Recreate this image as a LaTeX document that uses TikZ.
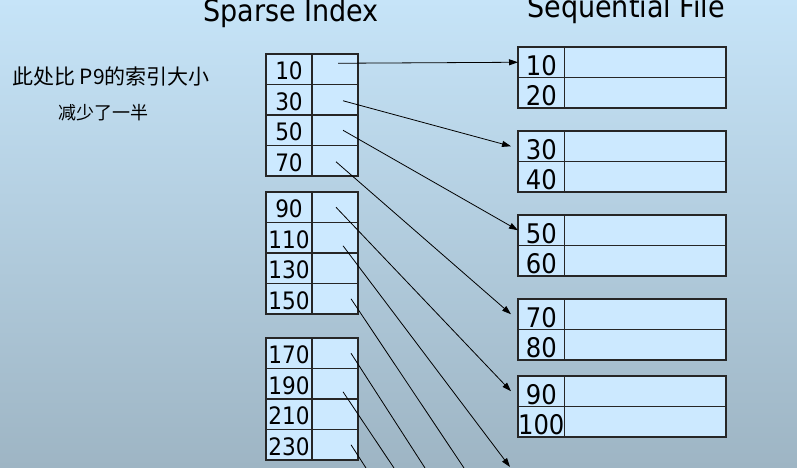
\documentclass[tikz,border=0pt]{standalone}
\usepackage{fontspec}
\setmainfont{DejaVu Sans Condensed}
\newfontfamily\cjk{Noto Sans CJK SC}
\usetikzlibrary{positioning,arrows.meta}
\definecolor{bgtop}{HTML}{C6E4F8}
\definecolor{bgbot}{HTML}{9EB5C4}
\definecolor{cellfill}{HTML}{CCE9FF}

\begin{document}
\begin{tikzpicture}[x=1pt, y=-1pt,
  idxkey/.style={draw=black!85, fill=cellfill, line width=1.1pt, minimum width=46pt, minimum height=30.5pt, inner sep=0pt, outer sep=0pt, text height=20.5pt, text depth=0pt, font=\fontsize{24}{24}\selectfont},
  idxptr/.style={idxkey},
  seqkey/.style={idxkey, minimum width=46.5pt, text height=25.5pt, font=\fontsize{27}{27}\selectfont},
  seqrec/.style={idxkey, minimum width=161.5pt},
  ttl/.style={font=\fontsize{30}{30}\selectfont, anchor=base, inner sep=0pt},
  note/.style={font=\cjk\fontsize{21}{21}\selectfont, anchor=base west, inner sep=0pt},
  arr/.style={-{Triangle[length=9pt,width=6pt]}, line width=0.8pt, draw=black},
  ln/.style={line width=0.8pt, draw=black}
]
\clip (0,0) rectangle (797,467);
\shade[top color=bgtop, bottom color=bgbot] (0,0) rectangle (797,467);

% Titles
\node[ttl] (tidx) at (291,21) {Sparse Index};
\node[ttl] (tseq) at (626,17) {Sequential File};

% Handwritten note
\node[note] (note1) at (12,84) {此处比 P9的索引大小};
\node[note, font=\cjk\fontsize{18}{18}\selectfont] (note2) at (58,119) {减少了一半};

% Sparse index: block 1
\node[idxkey] (k10) at (289,69.25) {10};   \node[idxptr, right=0pt of k10] (p10) {};
\node[idxkey, below=0pt of k10] (k30) {30}; \node[idxptr, right=0pt of k30] (p30) {};
\node[idxkey, below=0pt of k30] (k50) {50}; \node[idxptr, right=0pt of k50] (p50) {};
\node[idxkey, below=0pt of k50] (k70) {70}; \node[idxptr, right=0pt of k70] (p70) {};

% Sparse index: block 2
\node[idxkey, below=16pt of k70] (k90) {90};    \node[idxptr, right=0pt of k90] (p90) {};
\node[idxkey, below=0pt of k90] (k110) {110};   \node[idxptr, right=0pt of k110] (p110) {};
\node[idxkey, below=0pt of k110] (k130) {130};  \node[idxptr, right=0pt of k130] (p130) {};
\node[idxkey, below=0pt of k130] (k150) {150};  \node[idxptr, right=0pt of k150] (p150) {};

% Sparse index: block 3
\node[idxkey, below=24pt of k150] (k170) {170}; \node[idxptr, right=0pt of k170] (p170) {};
\node[idxkey, below=0pt of k170] (k190) {190};  \node[idxptr, right=0pt of k190] (p190) {};
\node[idxkey, below=0pt of k190] (k210) {210};  \node[idxptr, right=0pt of k210] (p210) {};
\node[idxkey, below=0pt of k210] (k230) {230};  \node[idxptr, right=0pt of k230] (p230) {};

% Sequential file blocks
\node[seqkey] (s10) at (541.25,62.25) {10};      \node[seqrec, right=0pt of s10] (r10) {};
\node[seqkey, below=0pt of s10] (s20) {20};      \node[seqrec, right=0pt of s20] (r20) {};
\node[seqkey, below=23pt of s20] (s30) {30};     \node[seqrec, right=0pt of s30] (r30) {};
\node[seqkey, below=0pt of s30] (s40) {40};      \node[seqrec, right=0pt of s40] (r40) {};
\node[seqkey, below=23pt of s40] (s50) {50};     \node[seqrec, right=0pt of s50] (r50) {};
\node[seqkey, below=0pt of s50] (s60) {60};      \node[seqrec, right=0pt of s60] (r60) {};
\node[seqkey, below=23pt of s60] (s70) {70};     \node[seqrec, right=0pt of s70] (r70) {};
\node[seqkey, below=0pt of s70] (s80) {80};      \node[seqrec, right=0pt of s80] (r80) {};
\node[seqkey, below=16pt of s80] (s90) {90};     \node[seqrec, right=0pt of s90] (r90) {};
\node[seqkey, below=0pt of s90] (s100) {100};    \node[seqrec, right=0pt of s100] (r100) {};

% Free ends below the picture
\coordinate (nx110) at (510,467);
\coordinate (nx150) at (464,468);
\coordinate (nx170) at (425,468);
\coordinate (nx190) at (394,468);
\coordinate (nx230) at (366,468);

% Pointers into the file
\draw[arr] ([xshift=3pt,yshift=6pt]p10.center) -- (s10.west);
\draw[arr] ([xshift=8pt,yshift=-1pt]p30.center) -- ([xshift=-7pt]s30.west);
\draw[arr] ([xshift=8pt]p50.center) -- (s50.west);
\draw[arr] ([xshift=1pt,yshift=-1pt]p70.center) -- ([xshift=-7pt]s70.west);
\draw[arr] ([xshift=1pt]p90.center) -- ([xshift=-7pt]s90.west);
\draw[arr] ([xshift=8pt,yshift=-8pt]p110.center) -- (nx110);
\draw[ln] ([xshift=16pt]p150.center) -- (nx150);
\draw[ln] ([xshift=16pt]p170.center) -- (nx170);
\draw[ln] ([xshift=8pt,yshift=-8pt]p190.center) -- (nx190);
\draw[ln] ([xshift=16pt]p230.center) -- (nx230);
\end{tikzpicture}
\end{document}
